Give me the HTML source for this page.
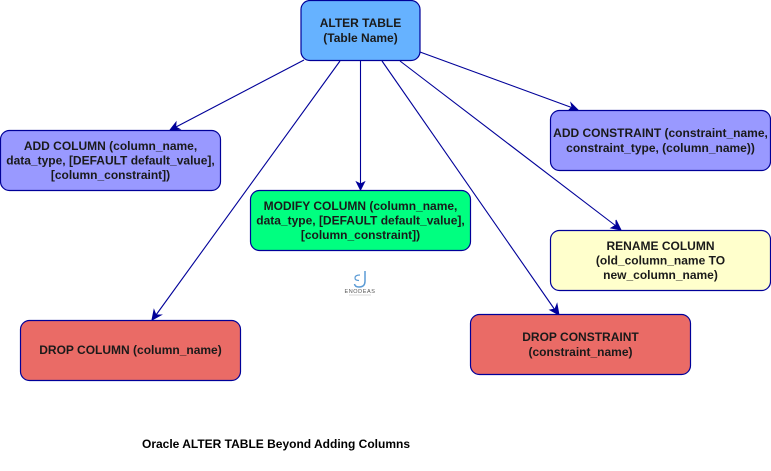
<!DOCTYPE html>
<html><head><meta charset="utf-8"><style>
html,body{margin:0;padding:0;background:#fff;width:771px;height:471px;overflow:hidden}
svg{display:block}
text{font-family:"Liberation Sans",Arial,sans-serif;font-size:12px;font-weight:bold;fill:#1a1a1a;text-anchor:middle}
.n{stroke:#000099;stroke-width:1.2}
.l{stroke:#000099;stroke-width:1.1;fill:none}
.a{fill:#000099;stroke:#000099;stroke-width:1}
</style></head><body>
<svg width="771" height="471" viewBox="0 0 771 471" xmlns="http://www.w3.org/2000/svg">
<line class="l" x1="304" y1="60" x2="175" y2="127.500"/>
<polygon class="a" points="170,130 176,122.300 175.700,127 179.800,129.300"/>
<line class="l" x1="340" y1="61" x2="156" y2="315"/>
<polygon class="a" points="152,320 154,310 156,315 161,315"/>
<line class="l" x1="360.500" y1="60" x2="360.500" y2="185"/>
<polygon class="a" points="360.500,190 356.500,182 360.500,184 364.500,182"/>
<line class="l" x1="382" y1="61" x2="555" y2="310"/>
<polygon class="a" points="559,315 550,310 555,309 557,304"/>
<line class="l" x1="400" y1="61" x2="616" y2="226"/>
<polygon class="a" points="621,230 611,228 616,225 616,220"/>
<line class="l" x1="420" y1="52" x2="573" y2="108"/>
<polygon class="a" points="578,110 568,111 572,107 571,103"/>

<rect class="n" x="301" y="0.500" width="119" height="60" rx="9" fill="#66b2ff"/>
<text x="360.500" y="27">ALTER TABLE</text>
<text x="360.500" y="42">(Table Name)</text>

<rect class="n" x="0.500" y="130.500" width="220" height="60" rx="9" fill="#9999ff"/>
<text x="110.500" y="150">ADD COLUMN (column_name,</text>
<text x="110.500" y="164.500">data_type, [DEFAULT default_value],</text>
<text x="110.500" y="179">[column_constraint])</text>

<rect class="n" x="550.500" y="110.500" width="220" height="60" rx="9" fill="#9999ff"/>
<text x="660.500" y="137">ADD CONSTRAINT (constraint_name,</text>
<text x="660.500" y="152">constraint_type, (column_name))</text>

<rect class="n" x="250.500" y="190.500" width="220" height="60" rx="9" fill="#00ff80"/>
<text x="360.500" y="210">MODIFY COLUMN (column_name,</text>
<text x="360.500" y="224.500">data_type, [DEFAULT default_value],</text>
<text x="360.500" y="239">[column_constraint])</text>

<rect class="n" x="550.500" y="230.500" width="220" height="60" rx="9" fill="#ffffcc"/>
<text x="660.500" y="250">RENAME COLUMN</text>
<text x="660.500" y="264.500">(old_column_name TO</text>
<text x="660.500" y="279">new_column_name)</text>

<rect class="n" x="20.500" y="320.500" width="220" height="60" rx="9" fill="#ea6b66"/>
<text x="130.500" y="354">DROP COLUMN (column_name)</text>

<rect class="n" x="470.500" y="314.500" width="220" height="60" rx="9" fill="#ea6b66"/>
<text x="580.500" y="341">DROP CONSTRAINT</text>
<text x="580.500" y="356">(constraint_name)</text>

<text x="276" y="448" style="fill:#000">Oracle ALTER TABLE Beyond Adding Columns</text>

<path d="M365 271 V281 Q365 287 359 287 Q355 287 354.500 284" fill="none" stroke="#5b9bd5" stroke-width="1.500"/>
<path d="M360 275 Q355 275 355 278 Q355 280.500 359 280.500" fill="none" stroke="#5b9bd5" stroke-width="1.200"/>
<text x="360" y="293" style="font-size:5.500px;fill:#555;font-weight:normal;letter-spacing:.6px">ENODEAS</text>
<line x1="349" y1="295" x2="371" y2="295" stroke="#ccc" stroke-width="0.800"/>
</svg>
</body></html>
